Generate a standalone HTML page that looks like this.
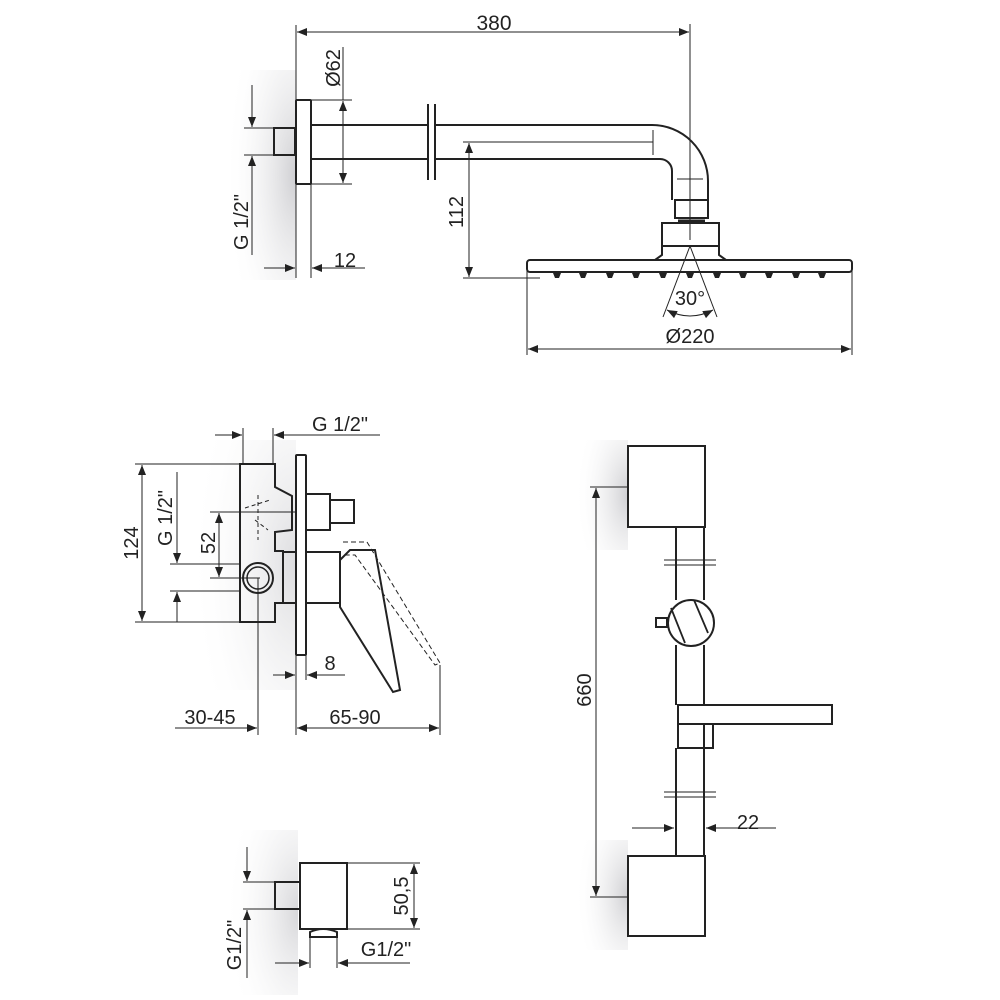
<!DOCTYPE html>
<html><head><meta charset="utf-8"><style>html,body{margin:0;padding:0;background:#fff}svg{display:block}text{font-family:"Liberation Sans",sans-serif;fill:#222}</style></head><body>
<svg width="1000" height="1000" viewBox="0 0 1000 1000" xmlns="http://www.w3.org/2000/svg">
<defs>
<marker id="a" viewBox="0 0 10 8" refX="10" refY="4" markerWidth="11" markerHeight="8" markerUnits="userSpaceOnUse" orient="auto-start-reverse"><path d="M0,0L10,4L0,8z" fill="#222"/></marker>
<radialGradient id="gr" cx="1" cy="0.5" r="1"><stop offset="0" stop-color="#c6c6ca"/><stop offset="1" stop-color="#fff" stop-opacity="0"/></radialGradient>
</defs>
<rect x="225" y="70" width="71" height="210" fill="url(#gr)" opacity="0.85"/>
<rect x="190" y="440" width="106" height="250" fill="url(#gr)" opacity="0.6"/>
<rect x="575" y="440" width="53" height="110" fill="url(#gr)" opacity="0.85"/>
<rect x="575" y="840" width="53" height="110" fill="url(#gr)" opacity="0.85"/>
<rect x="225" y="830" width="73" height="165" fill="url(#gr)" opacity="0.7"/>

<g fill="none" stroke="#222" stroke-width="1">
<line x1="296" y1="25" x2="296" y2="278"/><line x1="690" y1="24" x2="690" y2="240"/>
<line x1="297" y1="32" x2="689" y2="32" marker-start="url(#a)" marker-end="url(#a)"/>
<line x1="311" y1="184" x2="311" y2="278"/>
<line x1="311" y1="100" x2="352" y2="100"/><line x1="311" y1="184" x2="352" y2="184"/>
<line x1="343" y1="47" x2="343" y2="100"/>
<line x1="343" y1="101" x2="343" y2="183" marker-start="url(#a)" marker-end="url(#a)"/>
<line x1="244" y1="128" x2="274" y2="128"/><line x1="244" y1="155" x2="274" y2="155"/>
<line x1="252" y1="85" x2="252" y2="127" marker-end="url(#a)"/>
<line x1="252" y1="255" x2="252" y2="156" marker-end="url(#a)"/>
<line x1="264" y1="268" x2="295" y2="268" marker-end="url(#a)"/>
<line x1="365" y1="268" x2="312" y2="268" marker-end="url(#a)"/>
<line x1="463" y1="142" x2="653" y2="142"/><line x1="653" y1="130" x2="653" y2="155"/>
<line x1="677" y1="179" x2="703" y2="179"/>
<line x1="463" y1="278" x2="540" y2="278"/>
<line x1="469" y1="143" x2="469" y2="277" marker-start="url(#a)" marker-end="url(#a)"/>
<line x1="690" y1="246" x2="663" y2="317"/><line x1="690" y1="246" x2="717" y2="317"/>
<path d="M667,310 Q690,322 713,310" marker-start="url(#a)" marker-end="url(#a)"/>
<line x1="527" y1="270" x2="527" y2="355"/><line x1="852" y1="270" x2="852" y2="355"/>
<line x1="528" y1="349" x2="851" y2="349" marker-start="url(#a)" marker-end="url(#a)"/>
</g>
<g fill="none" stroke="#222" stroke-width="2">
<rect x="296" y="100" width="15" height="84" rx="1"/>
<rect x="274" y="128" width="21" height="27"/>
<path d="M311,125H428M435,125H652A56,56 0 0 1 708,181V200"/>
<path d="M311,159H428M435,159H660A12,12 0 0 1 672,171V200"/>
<line x1="428" y1="104" x2="428" y2="180"/><line x1="435" y1="104" x2="435" y2="180"/>
<rect x="675" y="200" width="33" height="18"/>
<line x1="678" y1="221" x2="705" y2="221" stroke-width="3"/>
<rect x="662" y="223" width="57" height="23"/>
<path d="M662,246V255L655,260M719,246V255L726,260"/>
<rect x="527" y="260" width="325" height="12" rx="3"/>
</g>
<g fill="#222">
<path d="M553,273h8l-2,5h-4z M579,273h8l-2,5h-4z M606,273h8l-2,5h-4z M632,273h8l-2,5h-4z M659,273h8l-2,5h-4z M686,273h8l-2,5h-4z M713,273h8l-2,5h-4z M739,273h8l-2,5h-4z M765,273h8l-2,5h-4z M792,273h8l-2,5h-4z M818,273h8l-2,5h-4z"/>
</g>
<text x="494" y="30" font-size="21" text-anchor="middle">380</text>
<text x="345" y="267" font-size="20" text-anchor="middle">12</text>
<text transform="translate(340,68) rotate(-90)" font-size="20" text-anchor="middle">Ø62</text>
<text transform="translate(248,222) rotate(-90)" font-size="20" text-anchor="middle">G 1/2"</text>
<text transform="translate(463,212) rotate(-90)" font-size="20" text-anchor="middle">112</text>
<text x="690" y="305" font-size="20" text-anchor="middle">30°</text>
<text x="690" y="343" font-size="20" text-anchor="middle">Ø220</text>

<g fill="none" stroke="#222" stroke-width="1">
<line x1="243" y1="428" x2="243" y2="464"/><line x1="273" y1="428" x2="273" y2="464"/>
<line x1="215" y1="435" x2="242" y2="435" marker-end="url(#a)"/>
<line x1="380" y1="435" x2="274" y2="435" marker-end="url(#a)"/>
<line x1="135" y1="464" x2="240" y2="464"/><line x1="135" y1="622" x2="240" y2="622"/>
<line x1="142" y1="465" x2="142" y2="621" marker-start="url(#a)" marker-end="url(#a)"/>
<line x1="170" y1="564" x2="240" y2="564"/><line x1="170" y1="591" x2="240" y2="591"/>
<line x1="177" y1="472" x2="177" y2="563" marker-end="url(#a)"/>
<line x1="177" y1="622" x2="177" y2="592" marker-end="url(#a)"/>
<line x1="210" y1="512" x2="295" y2="512"/><line x1="210" y1="578" x2="260" y2="578"/>
<line x1="219" y1="513" x2="219" y2="577" marker-start="url(#a)" marker-end="url(#a)"/>
<line x1="258" y1="578" x2="258" y2="735"/>
<line x1="296" y1="655" x2="296" y2="735"/><line x1="306" y1="655" x2="306" y2="680"/>
<line x1="440" y1="665" x2="440" y2="735"/>
<line x1="273" y1="675" x2="295" y2="675" marker-end="url(#a)"/>
<line x1="345" y1="675" x2="307" y2="675" marker-end="url(#a)"/>
<line x1="175" y1="728" x2="257" y2="728" marker-end="url(#a)"/>
<line x1="297" y1="728" x2="439" y2="728" marker-start="url(#a)" marker-end="url(#a)"/>
<path d="M343,542L367,542L440,663L435,665L355,555L343,555" stroke-dasharray="5,3"/>
<path d="M245,508L270,500M255,520L268,530M258,495V540" stroke-dasharray="4,3"/>
</g>
<g fill="none" stroke="#222" stroke-width="2">
<path d="M240,464H275V487L292,496V530L275,532V551H283V603H275V622H240Z"/>
<rect x="296" y="455" width="10" height="200" rx="1"/>
<rect x="306" y="494" width="24" height="36"/>
<rect x="330" y="500" width="24" height="23"/>
<rect x="283" y="552" width="13" height="51"/>
<rect x="306" y="552" width="34" height="51"/>
<path d="M340,560L350,550H375L400,690L393,692L340,607Z"/>
<circle cx="258" cy="578" r="15"/><circle cx="258" cy="578" r="11" stroke-width="1.5"/>
</g>
<text x="340" y="431" font-size="20" text-anchor="middle">G 1/2"</text>
<text transform="translate(138,543) rotate(-90)" font-size="20" text-anchor="middle">124</text>
<text transform="translate(172,518) rotate(-90)" font-size="20" text-anchor="middle">G 1/2"</text>
<text transform="translate(215,543) rotate(-90)" font-size="20" text-anchor="middle">52</text>
<text x="330" y="670" font-size="20" text-anchor="middle">8</text>
<text x="210" y="724" font-size="20" text-anchor="middle">30-45</text>
<text x="355" y="724" font-size="20" text-anchor="middle">65-90</text>

<g fill="none" stroke="#222" stroke-width="1">
<line x1="590" y1="487" x2="628" y2="487"/><line x1="590" y1="897" x2="628" y2="897"/>
<line x1="596" y1="488" x2="596" y2="896" marker-start="url(#a)" marker-end="url(#a)"/>
<line x1="632" y1="828" x2="674" y2="828" marker-end="url(#a)"/>
<line x1="776" y1="828" x2="706" y2="828" marker-end="url(#a)"/>
<line x1="664" y1="560" x2="716" y2="560"/><line x1="664" y1="565" x2="716" y2="565"/>
<line x1="664" y1="792" x2="716" y2="792"/><line x1="664" y1="797" x2="716" y2="797"/>
</g>
<g fill="none" stroke="#222" stroke-width="2">
<rect x="628" y="446" width="77" height="81"/>
<rect x="628" y="856" width="77" height="80"/>
<path d="M676,527V600M676,645V705M676,748V856M704,527V600M704,645V705M704,724V856"/>
<circle cx="691" cy="623" r="23" fill="#fff"/>
<path d="M671,608L685,643M694,600L708,633" stroke-width="1.8"/>
<rect x="656" y="618" width="11" height="9"/>
<rect x="678" y="705" width="154" height="19"/>
<rect x="678" y="724" width="35" height="24"/>
</g>
<text transform="translate(591,690) rotate(-90)" font-size="20" text-anchor="middle">660</text>
<text x="748" y="829" font-size="20" text-anchor="middle">22</text>

<g fill="none" stroke="#222" stroke-width="1">
<line x1="243" y1="882" x2="275" y2="882"/><line x1="243" y1="909" x2="275" y2="909"/>
<line x1="247" y1="847" x2="247" y2="881" marker-end="url(#a)"/>
<line x1="247" y1="978" x2="247" y2="910" marker-end="url(#a)"/>
<line x1="347" y1="863" x2="420" y2="863"/><line x1="347" y1="929" x2="420" y2="929"/>
<line x1="414" y1="864" x2="414" y2="928" marker-start="url(#a)" marker-end="url(#a)"/>
<line x1="310" y1="937" x2="310" y2="968"/><line x1="337" y1="937" x2="337" y2="968"/>
<line x1="275" y1="963" x2="309" y2="963" marker-end="url(#a)"/>
<line x1="410" y1="963" x2="338" y2="963" marker-end="url(#a)"/>
</g>
<g fill="none" stroke="#222" stroke-width="2">
<rect x="300" y="863" width="47" height="66"/>
<rect x="275" y="882" width="25" height="27"/>
<path d="M310,937V932Q323,926 337,932V937Z"/>
</g>
<text transform="translate(241,945) rotate(-90)" font-size="20" text-anchor="middle">G1/2"</text>
<text transform="translate(408,896) rotate(-90)" font-size="20" text-anchor="middle">50,5</text>
<text x="386" y="956" font-size="20" text-anchor="middle">G1/2"</text>
</svg>
</body></html>
